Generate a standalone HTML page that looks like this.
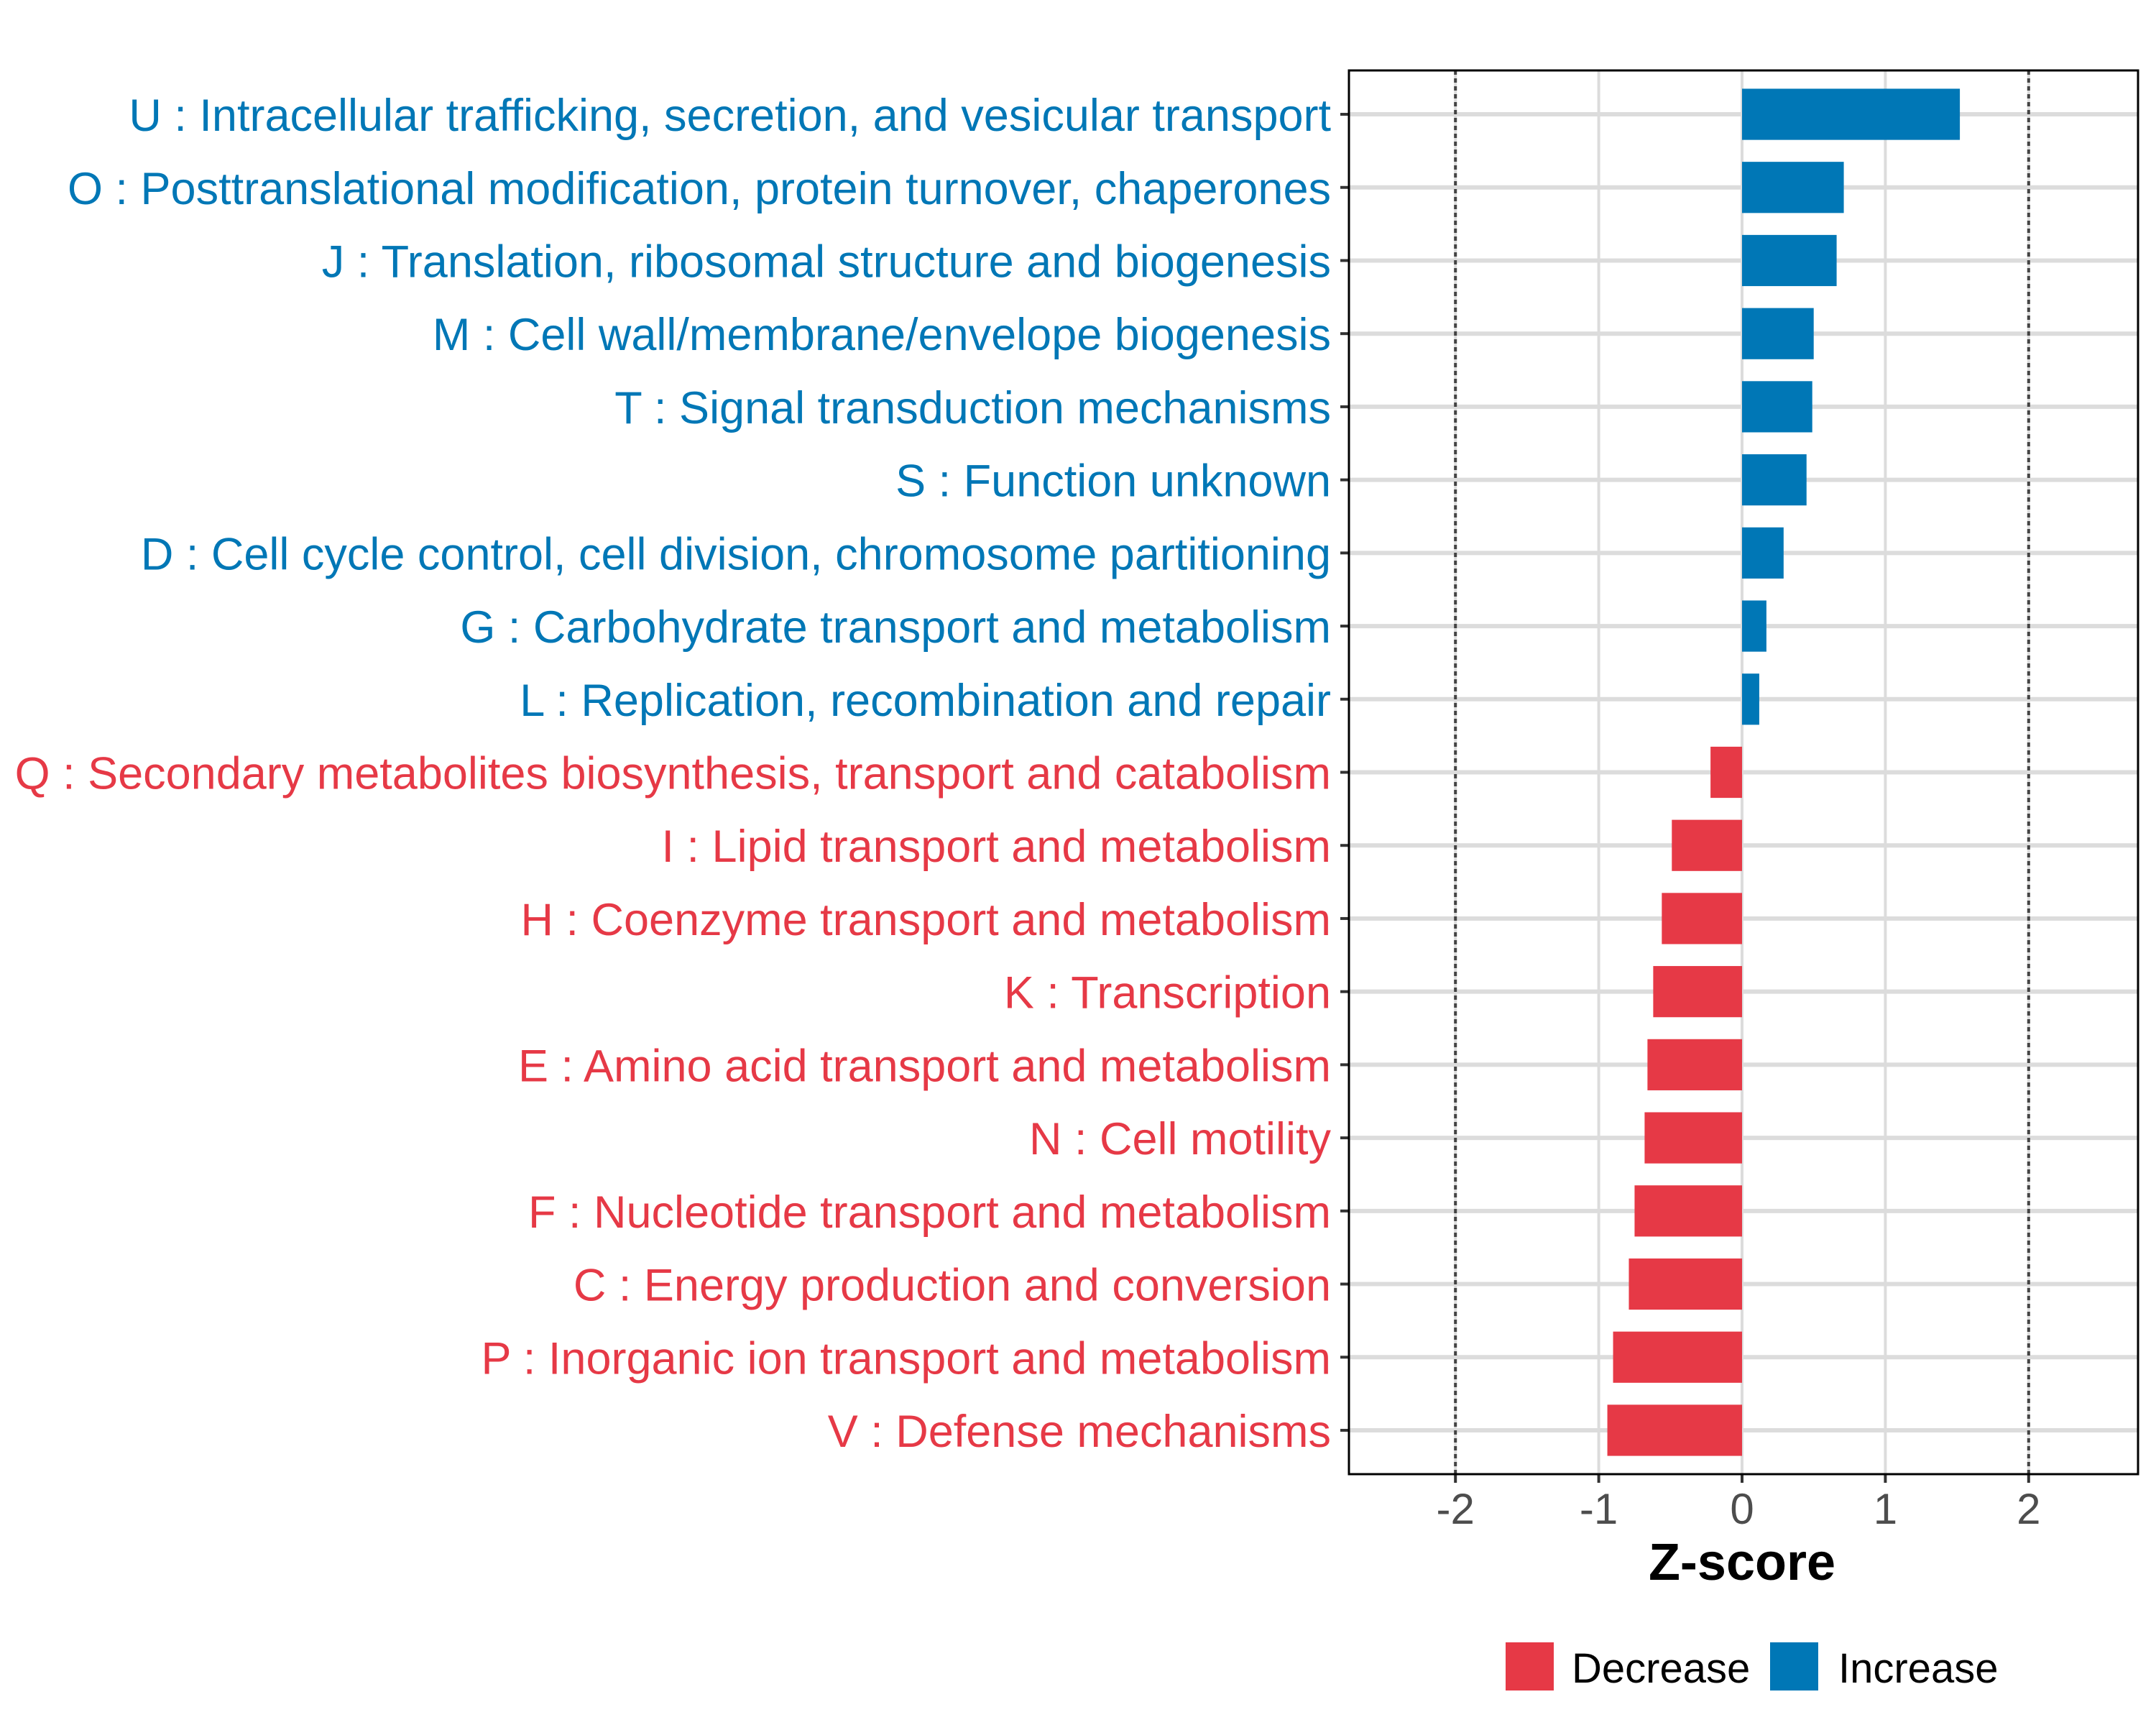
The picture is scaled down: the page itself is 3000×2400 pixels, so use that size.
<!DOCTYPE html>
<html><head><meta charset="utf-8"><style>
html,body{margin:0;padding:0;background:#fff;}
svg{display:block;font-family:"Liberation Sans",sans-serif;}
</style></head><body>
<svg id="chart" width="3000" height="2400" viewBox="0 0 3000 2400" xmlns="http://www.w3.org/2000/svg">
<g id="grid"></g>
<g id="bars"></g>
<g id="ylabels"></g>
<g id="xaxis"></g>
<text x="2424" y="2198" font-size="72" font-weight="bold" text-anchor="middle">Z-score</text>
<g>
<rect x="2095" y="2285" width="67" height="67" fill="#e63946"/>
<text x="2187" y="2341" font-size="58">Decrease</text>
<rect x="2463" y="2285" width="67" height="67" fill="#0077b6"/>
<text x="2558" y="2341" font-size="58">Increase</text>
</g>
</svg>
<script>
const categories = ["U : Intracellular trafficking, secretion, and vesicular transport","O : Posttranslational modification, protein turnover, chaperones","J : Translation, ribosomal structure and biogenesis","M : Cell wall/membrane/envelope biogenesis","T : Signal transduction mechanisms","S : Function unknown","D : Cell cycle control, cell division, chromosome partitioning","G : Carbohydrate transport and metabolism","L : Replication, recombination and repair","Q : Secondary metabolites biosynthesis, transport and catabolism","I : Lipid transport and metabolism","H : Coenzyme transport and metabolism","K : Transcription","E : Amino acid transport and metabolism","N : Cell motility","F : Nucleotide transport and metabolism","C : Energy production and conversion","P : Inorganic ion transport and metabolism","V : Defense mechanisms"];
const zscores = [1.52,0.71,0.66,0.50,0.49,0.45,0.29,0.17,0.12,-0.22,-0.49,-0.56,-0.62,-0.66,-0.68,-0.75,-0.79,-0.90,-0.94];
const xTicks = [-2,-1,0,1,2];
const xTickLabels = ["-2","-1","0","1","2"];
const dottedLines = [-2,2];

const NS="http://www.w3.org/2000/svg";
const PL=1877, PR=2975, PT=98, PB=2051;
const X0=2424, UNIT=199.4;
const xs = v => X0 + v*UNIT;
const STEP=(PB-PT)/(categories.length-1+1.2);
const ys = i => PT + STEP*0.6 + i*STEP;
const BLUE="#0077b6", RED="#e63946";
function mk(tag, attrs, parent){const e=document.createElementNS(NS,tag);for(const k in attrs)e.setAttribute(k,attrs[k]);parent.appendChild(e);return e;}
const grid=document.getElementById('grid'), bars=document.getElementById('bars'), yl=document.getElementById('ylabels'), xa=document.getElementById('xaxis'), svg=document.getElementById('chart');

const bg=mk('rect',{x:PL,y:PT,width:PR-PL,height:PB-PT,fill:'#fff'},grid);


xTicks.forEach(t=>{
  const l=mk('line',{x1:xs(t),x2:xs(t),y1:PT,y2:PB,stroke:'#dcdcdc','stroke-width':4},grid);
  
  
});
categories.forEach((c,i)=>{
  const l=mk('line',{x1:PL,x2:PR,y1:ys(i),y2:ys(i),stroke:'#dcdcdc','stroke-width':6},grid);
  
  
});
dottedLines.forEach(t=>{
  const l=mk('line',{x1:xs(t),x2:xs(t),y1:PT,y2:PB,stroke:'#444','stroke-width':4,'stroke-dasharray':'6 5'},grid);
  
  
});
const BH=STEP*0.7;
categories.forEach((c,i)=>{
  const v=zscores[i];
  const col=v>=0?BLUE:RED;
  const r=mk('rect',{x:Math.min(xs(0),xs(v)),y:ys(i)-BH/2,width:Math.abs(xs(v)-xs(0)),height:BH,fill:col},bars);
  
  
  const t=mk('text',{x:1852,y:ys(i)+23,'font-size':63,'text-anchor':'end',fill:col},yl);
  t.textContent=c;
  
  
  const tk=mk('line',{x1:PL-12,x2:PL,y1:ys(i),y2:ys(i),stroke:'#333','stroke-width':4},yl);
  
  
});
const frame=mk('rect',{x:PL,y:PT,width:PR-PL,height:PB-PT,fill:'none',stroke:'#000','stroke-width':3},svg);


xTicks.forEach((t,i)=>{
  const tk=mk('line',{x1:xs(t),x2:xs(t),y1:PB,y2:PB+12,stroke:'#333','stroke-width':4},xa);
  
  
  const tl=mk('text',{x:xs(t),y:2120,'font-size':60,'text-anchor':'middle',fill:'#4d4d4d'},xa);
  tl.textContent=xTickLabels[i];
  
  
});
</script>
</body></html>
